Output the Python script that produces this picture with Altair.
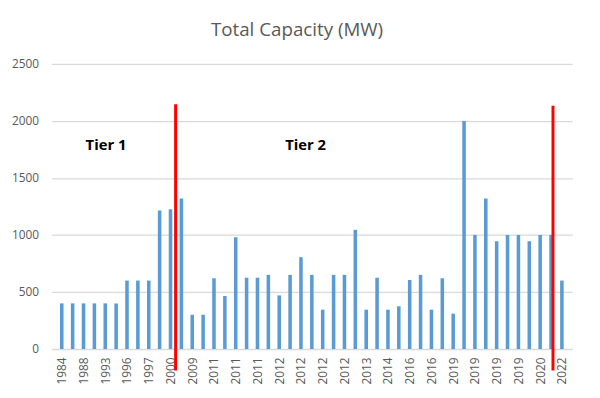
import altair as alt
import pandas as pd

# Bar values (MW), one per project, left to right
capacity = [400, 400, 400, 400, 400, 400, 600, 600, 600, 1215, 1225, 1320,
            300, 300, 620, 465, 980, 625, 625, 650, 470, 650, 805, 650,
            345, 650, 650, 1045, 345, 625, 345, 375, 605, 650, 345, 620,
            310, 2000, 1000, 1320, 945, 1000, 1000, 945, 1000, 1000, 600]

# Tick labels shown on every other bar
tick_labels = ["1984", "1988", "1993", "1996", "1997", "2000", "2009", "2011",
               "2011", "2011", "2012", "2012", "2012", "2012", "2013", "2014",
               "2016", "2016", "2019", "2019", "2019", "2019", "2020", "2022"]

# Red divider lines (x in bar-index units, y in MW)
divider_x = [10.47, 45.18]
divider_top = [2147, 2132]
divider_bottom = [-188, -188]

# Tier annotations
tier_text = ["Tier 1", "Tier 2"]
tier_x = [4.07, 22.43]
tier_y = [1784, 1784]

FONT = "Open Sans"
GREY = "#595959"

bars_df = pd.DataFrame({"idx": list(range(len(capacity))), "capacity": capacity})
div_df = pd.DataFrame({"x": divider_x, "top": divider_top, "bottom": divider_bottom})
tier_df = pd.DataFrame({"text": tier_text, "x": tier_x, "y": tier_y})

label_array = "[" + ",".join("'" + t + "'" for t in tick_labels) + "]"
tick_vals = [2 * i for i in range(len(tick_labels))]

x_scale = alt.Scale(domain=[-0.5, len(capacity) - 0.5], nice=False, zero=False)
y_scale = alt.Scale(domain=[0, 2500], nice=False)

x_axis = alt.Axis(values=tick_vals, labelExpr=label_array + "[datum.value/2]",
                  labelAngle=-90, labelFont=FONT, labelFontSize=12,
                  labelColor=GREY, labelPadding=8, domain=False,
                  ticks=False, grid=False, labelOverlap=False,
                  labelBound=False, labelFlush=False)
y_axis = alt.Axis(values=[0, 500, 1000, 1500, 2000, 2500], format="d",
                  labelFont=FONT, labelFontSize=12, labelColor=GREY,
                  labelPadding=13, domain=False, ticks=False,
                  gridColor="#d9d9d9", gridWidth=1.3)

bars = alt.Chart(bars_df).mark_bar(size=3.6, color="#5B9BD5").encode(
    x=alt.X("idx:Q", scale=x_scale, title=None, axis=x_axis),
    y=alt.Y("capacity:Q", scale=y_scale, title=None, axis=y_axis),
)

rules = alt.Chart(div_df).mark_rule(color="#ff0000", strokeWidth=3, clip=False).encode(
    x=alt.X("x:Q", scale=x_scale, title=None, axis=x_axis),
    y=alt.Y("top:Q", scale=y_scale, title=None, axis=y_axis),
    y2="bottom:Q",
)

tiers = alt.Chart(tier_df).mark_text(font=FONT, fontSize=15, fontWeight="bold",
                                      color="black", align="center",
                                      baseline="middle").encode(
    x=alt.X("x:Q", scale=x_scale, title=None, axis=x_axis),
    y=alt.Y("y:Q", scale=y_scale, title=None, axis=y_axis),
    text="text:N",
)

chart = alt.layer(bars, rules, tiers).properties(
    width=528, height=289,
    title=alt.TitleParams("Total Capacity (MW)", font=FONT, fontSize=19,
                          fontWeight="normal", color=GREY, anchor="middle",
                          dx=-15, offset=18),
    autosize=alt.AutoSizeParams(type="none"),
    padding={"left": 44, "top": 54, "right": 20, "bottom": 47},
).configure(background="white").configure_view(stroke=None)

chart.save("out.html", embed_options={"renderer": "svg", "actions": False})
